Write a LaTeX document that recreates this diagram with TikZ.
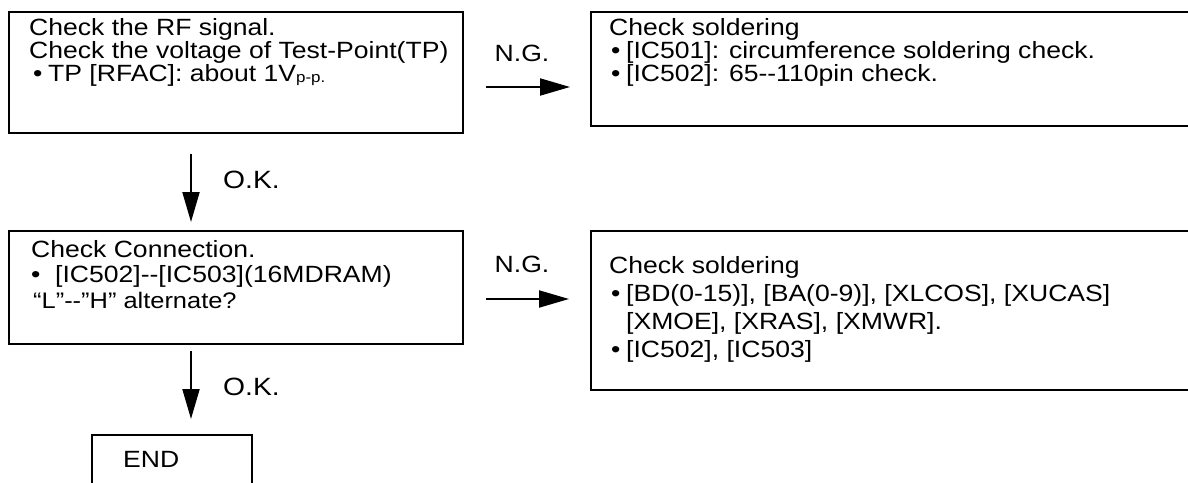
\documentclass[tikz,border=0pt]{standalone}
\usepackage{fontspec}
\setmainfont{Liberation Sans}[FakeStretch=1.13]
\usetikzlibrary{arrows.meta}
\newcommand\dd{\mbox{-}\mbox{-}}
\newcommand\mlines[2]{\vtop{\baselineskip=#1\lineskiplimit=-100pt\lineskip=0pt #2}}
\newcommand\bul[1]{\makebox[#1][l]{•}}
\begin{document}
\begin{tikzpicture}[x=1pt,y=-1pt,
  box/.style={draw, line width=2pt, inner sep=0pt, outer sep=0pt, anchor=north west},
  txt/.style={anchor=base west, inner sep=0pt, font=\fontsize{23.5}{24}\selectfont},
  lbl/.style={inner sep=0pt, font=\fontsize{23.5}{24}\selectfont},
  oklbl/.style={inner sep=0pt, anchor=base west, font=\fontsize{25}{26}\selectfont},
  arr/.style={line width=2pt, -{Triangle[length=30pt,width=17pt]}}]
\useasboundingbox (0,0) rectangle (1188,482);
\clip (0,0) rectangle (1188,482);
% boxes
\node[box, minimum width=454pt, minimum height=121pt] (b1) at (9,12) {};
\node[box, minimum width=620pt, minimum height=114pt] (b2) at (591,12) {};
\node[box, minimum width=454pt, minimum height=113pt] (b3) at (9,231) {};
\node[box, minimum width=620pt, minimum height=159pt] (b4) at (591,231) {};
\node[box, minimum width=160pt, minimum height=80pt] (e) at (92,435) {};
% texts
\node[txt] (t1) at (29,35) {\mlines{23pt}{%
  \hbox{Check the RF signal.}%
  \hbox{Check the voltage of Test-Point(TP)}%
  \hbox{\hspace{4pt}\bul{15pt}TP [RFAC]: about 1V{\fontsize{15}{15}\selectfont\raisebox{-1pt}{p-p.}}}}};
\node[txt] (t2) at (609,35) {\mlines{23pt}{%
  \hbox{Check soldering}%
  \hbox{\hspace{2pt}\bul{15pt}[IC501]: circumference soldering check.}%
  \hbox{\hspace{2pt}\bul{15pt}[IC502]: 65\dd110pin check.}}};
\node[txt] (t3) at (31,257) {\mlines{25.5pt}{%
  \hbox{Check Connection.}%
  \hbox{\bul{10pt}\hspace{14pt}[IC502]\dd[IC503](16MDRAM)}%
  \hbox{\hspace{2pt}{\fontsize{22.5}{24}\selectfont “L”\dd”H” alternate?}}}};
\node[txt] (t4) at (609,273) {\mlines{28pt}{%
  \hbox{Check soldering}%
  \hbox{\hspace{2pt}\bul{15pt}[BD(0-15)], [BA(0-9)], [XLCOS], [XUCAS]}%
  \hbox{\hspace{17pt}[XMOE], [XRAS], [XMWR].}%
  \hbox{\hspace{2pt}\bul{15pt}[IC502], [IC503]}}};
\node[txt] (t5) at (123,467) {END};
% labels
\node[lbl, anchor=base] (ng1) at (522,61) {N.G.};
\node[lbl, anchor=base] (ng2) at (522,272) {N.G.};
\node[oklbl] (ok1) at (223,188) {O.K.};
\node[oklbl] (ok2) at (223,395) {O.K.};
% connectors
\draw[arr, shorten <=23pt, shorten >=21pt] ([yshift=-14.5pt]b1.east) -- ([yshift=-14.5pt]b1.east -| b2.west);
\draw[arr, shorten <=23pt, shorten >=22pt] ([yshift=-11.5pt]b3.east) -- ([yshift=-11.5pt]b3.east -| b4.west);
\draw[arr, shorten <=21pt, shorten >=9pt] ([xshift=-45pt]b1.south) -- ([xshift=-45pt]b1.south |- b3.north);
\draw[arr, shorten <=7pt, shorten >=16pt] ([xshift=-45pt]b3.south) -- ([xshift=-45pt]b3.south |- e.north);
\end{tikzpicture}
\end{document}
